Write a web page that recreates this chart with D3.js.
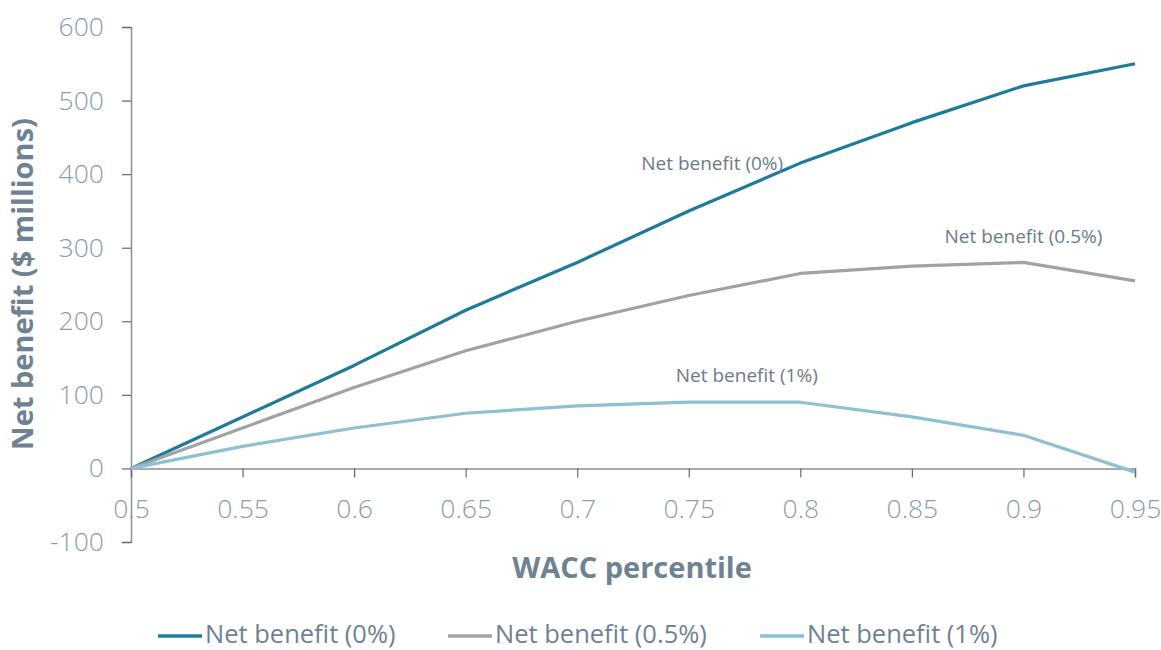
<!DOCTYPE html>
<html>
<head>
<meta charset="utf-8">
<script src="https://cdn.jsdelivr.net/npm/d3@7"></script>
<style>
  body { margin: 0; background: #fff; }
  text { font-family: "Open Sans", sans-serif; }
</style>
</head>
<body>
<svg id="chart" width="1161" height="650"></svg>
<script>
const svg = d3.select("#chart");

// data
const percentiles = [0.5, 0.55, 0.6, 0.65, 0.7, 0.75, 0.8, 0.85, 0.9, 0.95];
const benefit0 = [0, 70, 140, 215, 280, 350, 415, 470, 520, 550];
const benefit05 = [0, 55, 110, 160, 200, 235, 265, 275, 280, 255];
const benefit1 = [0, 30, 55, 75, 85, 90, 90, 70, 45, -5];
const seriesNames = ["Net benefit (0%)", "Net benefit (0.5%)", "Net benefit (1%)"];
const yTicks = [-100, 0, 100, 200, 300, 400, 500, 600];

const colors = ["#1f7a9c", "#a0a3a6", "#8fbfd3"];
const series = [benefit0, benefit05, benefit1];

const x = d3.scaleLinear().domain([0.5, 0.95]).range([131, 1135]);
const y = d3.scaleLinear().domain([-100, 600]).range([542, 27]);

// y axis
const yAxis = svg.append("g")
    .attr("transform", "translate(131,0)")
    .call(d3.axisLeft(y).tickValues(yTicks).tickSize(9).tickPadding(18)
        .tickFormat(d => String(d)));
yAxis.select(".domain").attr("stroke", "#8a8f94").attr("stroke-width", 1.5);
yAxis.selectAll(".tick line").attr("stroke", "#5f6a74").attr("stroke-width", 1.2);
yAxis.selectAll(".tick text").attr("fill", "#8b9cab")
    .style("font-size", "26.5px").style("font-weight", "300");

// x axis at zero
const xAxis = svg.append("g")
    .attr("transform", "translate(0," + y(0) + ")")
    .call(d3.axisBottom(x).tickValues(percentiles).tickSize(9).tickPadding(22)
        .tickFormat(d => String(+d.toFixed(2))));
xAxis.select(".domain").attr("stroke", "#8a8f94").attr("stroke-width", 1.5);
xAxis.selectAll(".tick line").attr("stroke", "#5f6a74").attr("stroke-width", 1.2);
xAxis.selectAll(".tick text").attr("fill", "#8b9cab")
    .style("font-size", "26.5px").style("font-weight", "300");

// lines
const line = d3.line()
    .x((d, i) => x(percentiles[i]))
    .y(d => y(d));

svg.selectAll("path.series").data(series)
    .join("path")
    .attr("class", "series")
    .attr("d", line)
    .attr("fill", "none")
    .attr("stroke", (d, i) => colors[i])
    .attr("stroke-width", 3.2)
    .attr("stroke-linejoin", "round");

// annotations
const labels = [
    { text: seriesNames[0], px: 0.7605, v: 406 },
    { text: seriesNames[1], px: 0.9, v: 307 },
    { text: seriesNames[2], px: 0.776, v: 117 }
];
svg.selectAll("text.annot").data(labels)
    .join("text")
    .attr("class", "annot")
    .attr("x", d => x(d.px))
    .attr("y", d => y(d.v))
    .attr("text-anchor", "middle")
    .attr("fill", "#6b7b88")
    .style("font-size", "19px")
    .text(d => d.text);

// axis titles
svg.append("text")
    .attr("transform", "translate(33,284) rotate(-90)")
    .attr("text-anchor", "middle")
    .attr("fill", "#6e8291")
    .style("font-size", "29px")
    .style("font-weight", "bold")
    .text("Net benefit ($ millions)");

svg.append("text")
    .attr("x", 632)
    .attr("y", 578)
    .attr("text-anchor", "middle")
    .attr("fill", "#6e8291")
    .style("font-size", "29px")
    .style("font-weight", "bold")
    .text("WACC percentile");

// legend
const legendX = [158, 448, 760];
const legend = svg.selectAll("g.legend").data(seriesNames)
    .join("g")
    .attr("class", "legend")
    .attr("transform", (d, i) => "translate(" + legendX[i] + ",634)");
legend.append("line")
    .attr("x1", 0).attr("x2", 44)
    .attr("y1", 2).attr("y2", 2)
    .attr("stroke", (d, i) => colors[i])
    .attr("stroke-width", 3.5);
legend.append("text")
    .attr("x", 47)
    .attr("dy", "0.35em")
    .attr("fill", "#6e8291")
    .style("font-size", "25.5px")
    .text(d => d);
</script>
</body>
</html>
